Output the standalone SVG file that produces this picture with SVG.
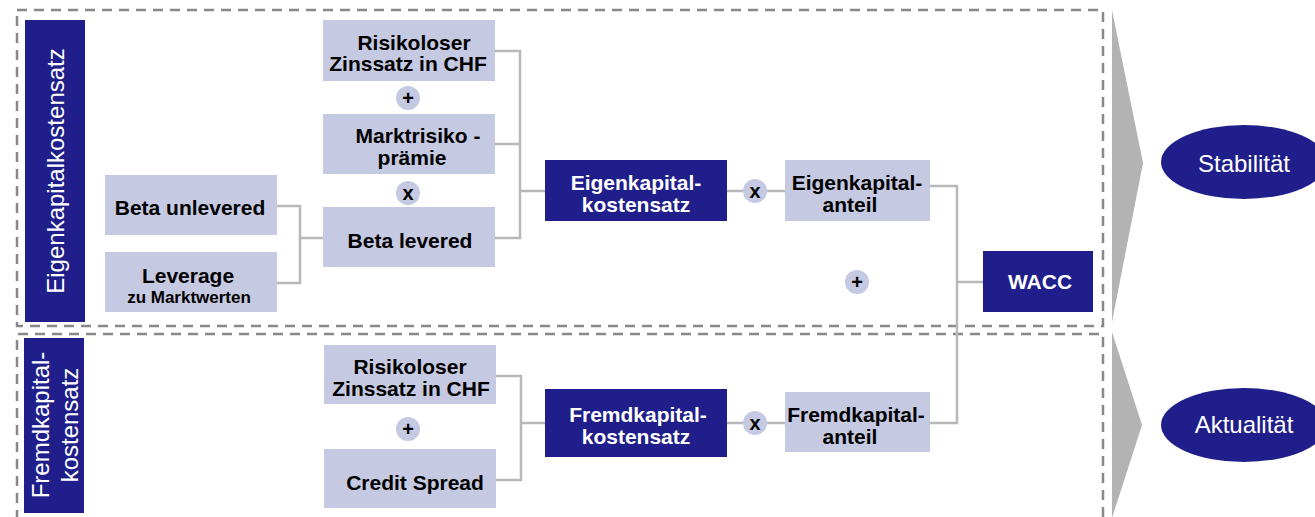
<svg xmlns="http://www.w3.org/2000/svg" width="1315" height="517" viewBox="0 0 1315 517">
<style>
.frame{fill:none;stroke:#888888;stroke-width:2.5;stroke-dasharray:10 7}
.bar{fill:#201e8a}
.lb{fill:#c5c9e2}
.db{fill:#201e8a}
.op{fill:#c5c9e2}
.t{font-family:"Liberation Sans",Arial,Helvetica,sans-serif;font-weight:bold;font-size:21px;fill:#000;text-anchor:middle}
.tw{font-family:"Liberation Sans",Arial,Helvetica,sans-serif;font-weight:bold;font-size:21px;fill:#fff;text-anchor:middle}
.ts{font-family:"Liberation Sans",Arial,Helvetica,sans-serif;font-weight:bold;font-size:17px;fill:#000;text-anchor:middle}
.ot{font-family:"Liberation Sans",Arial,Helvetica,sans-serif;font-weight:bold;font-size:20px;fill:#000;text-anchor:middle}
.vt{font-family:"Liberation Sans",Arial,Helvetica,sans-serif;font-size:24px;fill:#fff;text-anchor:middle}
.conn{fill:none;stroke:#b8b8b8;stroke-width:2.5}
.arrow{fill:#b3b3b3}
</style>

<g id="frames">
<rect class="frame" x="17" y="10" width="1086" height="316"/>
<path class="frame" d="M17,520 V334 H1103 V520"/>
</g>

<g id="arrows">
<polygon class="arrow" points="1112,10 1143,163 1112,322"/>
<polygon class="arrow" points="1112,332 1142,425 1112,518"/>
</g>

<g id="connectors">
<path class="conn" d="M277,206 H300 V283 H277 M300,238 H323"/>
<path class="conn" d="M495,51 H520 V238 H495 M495,144 H520 M520,191 H545"/>
<path class="conn" d="M727,191 H785"/>
<path class="conn" d="M930,186 H957 V423 H930 M957,282 H983"/>
<path class="conn" d="M496,376 H521 V480 H496 M521,423 H545"/>
<path class="conn" d="M727,423 H785"/>
</g>

<g id="label-ek">
<rect class="bar" x="25" y="20" width="60" height="302"/>
<text class="vt" transform="translate(64,171) rotate(-90)">Eigenkapitalkostensatz</text>
</g>

<g id="label-fk">
<rect class="bar" x="24" y="338" width="60" height="175"/>
<text class="vt" transform="translate(49,425) rotate(-90)">Fremdkapital-</text>
<text class="vt" transform="translate(78,425) rotate(-90)">kostensatz</text>
</g>

<g id="beta-unlevered">
<rect class="lb" x="105" y="175" width="172" height="60"/>
<text class="t" x="190" y="215">Beta unlevered</text>
</g>

<g id="leverage">
<rect class="lb" x="105" y="252" width="172" height="60"/>
<text class="t" x="188" y="283">Leverage</text>
<text class="ts" x="189" y="303">zu Marktwerten</text>
</g>

<g id="risikoloser-ek">
<rect class="lb" x="323" y="20" width="172" height="61"/>
<text class="t" x="414" y="50">Risikoloser</text>
<text class="t" x="408" y="71">Zinssatz in CHF</text>
</g>

<g id="op-plus-1">
<circle class="op" cx="408" cy="98" r="12"/>
<text class="ot" x="408" y="105">+</text>
</g>

<g id="marktrisikopraemie">
<rect class="lb" x="323" y="114" width="172" height="60"/>
<text class="t" x="418" y="143">Marktrisiko -</text>
<text class="t" x="412" y="165">prämie</text>
</g>

<g id="op-x-1">
<circle class="op" cx="408" cy="193" r="12"/>
<text class="ot" x="408" y="200">x</text>
</g>

<g id="beta-levered">
<rect class="lb" x="323" y="207" width="172" height="60"/>
<text class="t" x="410" y="248">Beta levered</text>
</g>

<g id="ek-kostensatz">
<rect class="db" x="545" y="160" width="182" height="61"/>
<text class="tw" x="636" y="190">Eigenkapital-</text>
<text class="tw" x="636" y="212">kostensatz</text>
</g>

<g id="op-x-2">
<circle class="op" cx="755" cy="191" r="12"/>
<text class="ot" x="755" y="198">x</text>
</g>

<g id="ek-anteil">
<rect class="lb" x="785" y="160" width="145" height="61"/>
<text class="t" x="857" y="190">Eigenkapital-</text>
<text class="t" x="850" y="212">anteil</text>
</g>

<g id="op-plus-2">
<circle class="op" cx="857" cy="282" r="12"/>
<text class="ot" x="857" y="289">+</text>
</g>

<g id="wacc">
<rect class="db" x="983" y="251" width="110" height="61"/>
<text class="tw" x="1040" y="289">WACC</text>
</g>

<g id="risikoloser-fk">
<rect class="lb" x="324" y="345" width="172" height="59"/>
<text class="t" x="410" y="374">Risikoloser</text>
<text class="t" x="411" y="396">Zinssatz in CHF</text>
</g>

<g id="op-plus-3">
<circle class="op" cx="408" cy="429" r="12"/>
<text class="ot" x="408" y="436">+</text>
</g>

<g id="credit-spread">
<rect class="lb" x="324" y="449" width="172" height="59"/>
<text class="t" x="415" y="490">Credit Spread</text>
</g>

<g id="fk-kostensatz">
<rect class="db" x="545" y="389" width="182" height="68"/>
<text class="tw" x="638" y="422">Fremdkapital-</text>
<text class="tw" x="636" y="444">kostensatz</text>
</g>

<g id="op-x-3">
<circle class="op" cx="755" cy="423" r="12"/>
<text class="ot" x="755" y="430">x</text>
</g>

<g id="fk-anteil">
<rect class="lb" x="785" y="392" width="145" height="60"/>
<text class="t" x="856" y="422">Fremdkapital-</text>
<text class="t" x="850" y="444">anteil</text>
</g>

<g id="stabilitaet">
<ellipse class="db" cx="1244" cy="162" rx="83" ry="37"/>
<text class="vt" x="1244" y="172">Stabilität</text>
</g>

<g id="aktualitaet">
<ellipse class="db" cx="1244" cy="425" rx="83" ry="37"/>
<text class="vt" x="1244" y="433">Aktualität</text>
</g>
</svg>
